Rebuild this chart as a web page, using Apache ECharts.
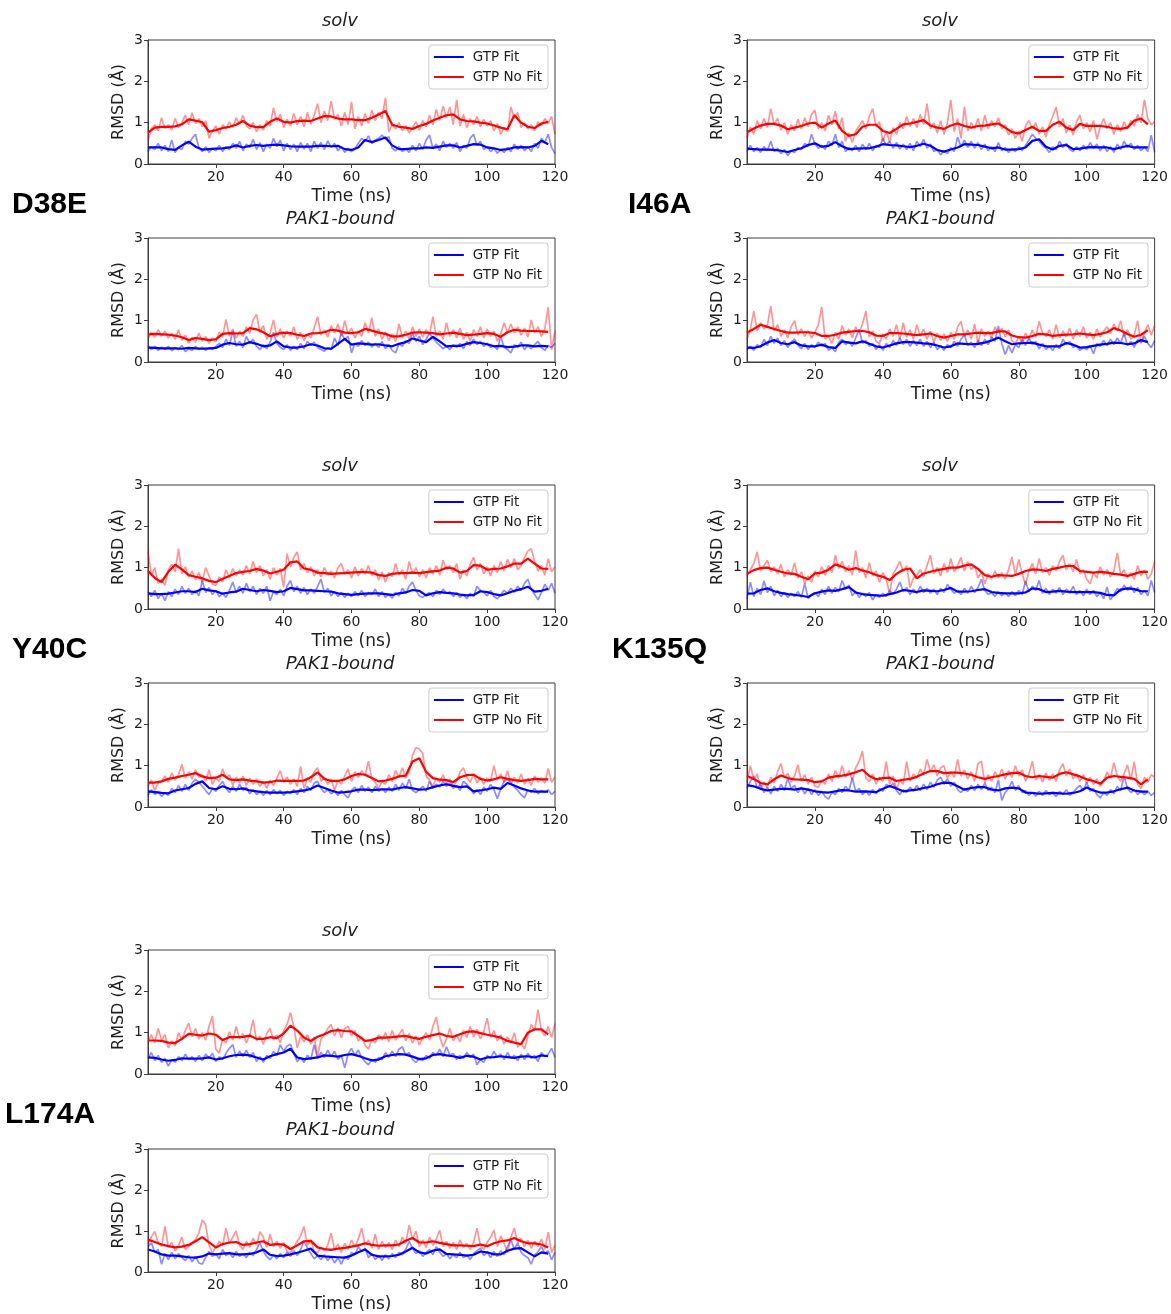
<!DOCTYPE html>
<html>
<head>
<meta charset="utf-8">
<script src="https://cdn.jsdelivr.net/npm/echarts@6/dist/echarts.min.js"></script>
<style>
  html, body { margin: 0; padding: 0; background: #ffffff; }
  #chart { width: 1171px; height: 1314px; }
</style>
</head>
<body>
<div id="chart"></div>
<script>
// RMSD (Å) of GTP over 120 ns trajectories, per mutant and environment.
// "raw" series are sampled every 1 ns, "smooth" series (running mean) every 2 ns.

const RAW_TIME = Array.from({ length: 121 }, (_, i) => i);
const SMOOTH_TIME = Array.from({ length: 60 }, (_, i) => 2 * i);

const X_TICKS = [20, 40, 60, 80, 100, 120];
const Y_TICKS = [0, 1, 2, 3];
const MUTANTS = ['D38E', 'I46A', 'Y40C', 'K135Q', 'L174A'];
const ENVIRONMENTS = ['solv', 'PAK1-bound'];
const SERIES_NAMES = ['GTP Fit', 'GTP No Fit'];

// ---------- D38E ----------
const D38E_SOLV_FIT_RAW = [0.30,0.42,0.35,0.50,0.32,0.45,0.30,0.58,0.28,0.40,
 0.35,0.55,0.48,0.62,0.72,0.40,0.30,0.42,0.28,0.38,
 0.32,0.45,0.30,0.42,0.35,0.50,0.38,0.55,0.32,0.48,
 0.40,0.60,0.35,0.52,0.30,0.48,0.38,0.62,0.42,0.58,
 0.32,0.50,0.35,0.48,0.30,0.52,0.36,0.50,0.30,0.55,
 0.38,0.52,0.35,0.56,0.40,0.50,0.32,0.42,0.28,0.38,
 0.30,0.36,0.50,0.62,0.55,0.68,0.50,0.58,0.62,0.70,
 0.60,0.66,0.38,0.32,0.42,0.30,0.38,0.28,0.45,0.32,
 0.50,0.35,0.58,0.70,0.38,0.48,0.32,0.55,0.40,0.50,
 0.38,0.52,0.30,0.45,0.38,0.62,0.72,0.45,0.55,0.35,
 0.42,0.30,0.38,0.26,0.35,0.28,0.40,0.30,0.48,0.35,
 0.45,0.32,0.42,0.30,0.50,0.38,0.62,0.52,0.72,0.40,0.25];
const D38E_SOLV_FIT_SMOOTH = [0.40,0.40,0.40,0.36,0.34,0.45,0.54,0.42,0.35,0.36,
 0.37,0.38,0.40,0.45,0.40,0.44,0.46,0.44,0.46,0.47,
 0.45,0.43,0.42,0.42,0.42,0.44,0.44,0.43,0.44,0.36,
 0.34,0.40,0.58,0.53,0.58,0.64,0.45,0.36,0.36,0.38,
 0.38,0.40,0.39,0.42,0.45,0.45,0.40,0.44,0.48,0.47,
 0.40,0.38,0.34,0.36,0.40,0.41,0.40,0.44,0.56,0.48];
const D38E_SOLV_NOFIT_RAW = [0.55,0.85,0.95,0.80,1.12,0.86,0.95,0.82,1.10,0.88,
 1.00,1.18,0.95,1.24,0.98,1.10,0.90,1.05,0.62,0.80,
 0.92,0.72,0.95,0.85,1.02,0.88,1.12,0.96,1.18,0.92,
 0.85,1.00,0.78,0.95,0.82,1.05,0.92,1.36,1.02,1.20,
 0.88,1.08,0.92,1.22,0.95,1.15,0.90,1.25,0.96,1.18,
 1.46,1.00,1.28,1.05,1.52,1.08,1.20,0.92,1.25,0.95,
 1.50,0.85,1.15,0.92,1.22,0.98,1.30,1.05,1.25,1.10,
 1.60,0.78,0.95,0.85,1.00,0.80,0.92,0.75,0.88,1.02,
 0.82,1.05,0.90,1.18,0.95,1.32,1.05,1.40,1.12,1.38,
 0.95,1.55,0.92,1.20,0.88,1.10,0.95,1.15,0.90,1.08,
 0.92,1.05,0.80,0.98,0.72,0.88,0.78,1.38,1.10,1.25,
 0.88,1.00,0.85,0.95,0.80,1.02,0.92,1.10,0.98,1.15,0.72];
const D38E_SOLV_NOFIT_SMOOTH = [0.76,0.88,0.90,0.90,0.91,0.96,1.08,1.05,1.01,0.78,
 0.82,0.87,0.90,0.95,1.04,0.93,0.89,0.89,1.02,1.10,
 1.02,1.00,1.04,1.05,1.04,1.10,1.16,1.15,1.10,1.08,
 1.08,1.06,1.06,1.12,1.20,1.28,0.95,0.90,0.88,0.85,
 0.92,0.97,1.05,1.12,1.18,1.20,1.08,1.04,1.03,1.00,
 0.98,0.93,0.88,0.84,1.18,1.00,0.90,0.87,0.98,1.02];

const D38E_PAK1_FIT_RAW = [0.40,0.30,0.38,0.28,0.36,0.30,0.38,0.27,0.35,0.30,
 0.40,0.25,0.32,0.28,0.38,0.30,0.36,0.28,0.34,0.30,
 0.38,0.45,0.35,0.55,0.40,0.75,0.38,0.50,0.35,0.62,
 0.45,0.55,0.38,0.30,0.42,0.32,0.48,0.72,0.45,0.35,
 0.30,0.42,0.28,0.38,0.30,0.45,0.32,0.50,0.40,0.48,
 0.35,0.30,0.26,0.35,0.30,0.58,0.40,0.70,0.55,0.62,
 0.22,0.45,0.38,0.52,0.40,0.48,0.36,0.45,0.35,0.50,
 0.32,0.42,0.28,0.22,0.45,0.38,0.52,0.45,0.70,0.50,
 0.62,0.42,0.55,0.70,0.58,0.48,0.40,0.32,0.38,0.30,
 0.42,0.35,0.45,0.32,0.50,0.40,0.55,0.42,0.50,0.38,
 0.45,0.35,0.40,0.30,0.62,0.35,0.30,0.22,0.42,0.35,
 0.48,0.30,0.40,0.32,0.42,0.50,0.35,0.28,0.40,0.35,0.45];
const D38E_PAK1_FIT_SMOOTH = [0.35,0.34,0.33,0.33,0.33,0.32,0.34,0.33,0.32,0.33,
 0.34,0.42,0.46,0.43,0.42,0.48,0.44,0.38,0.40,0.50,
 0.38,0.35,0.35,0.38,0.43,0.40,0.33,0.32,0.44,0.56,
 0.42,0.45,0.44,0.42,0.43,0.40,0.38,0.44,0.48,0.57,
 0.52,0.48,0.61,0.50,0.38,0.39,0.39,0.44,0.48,0.46,
 0.43,0.38,0.39,0.36,0.37,0.40,0.40,0.38,0.39,0.38];
const D38E_PAK1_NOFIT_RAW = [0.55,0.72,0.60,0.78,0.62,0.75,0.58,0.70,0.55,0.78,
 0.52,0.65,0.45,0.60,0.48,0.70,0.50,0.62,0.45,0.58,
 0.50,0.72,0.60,1.03,0.62,0.80,0.58,0.75,0.62,0.85,
 0.70,1.02,1.15,0.72,0.88,0.55,0.70,1.02,0.60,0.80,
 0.58,0.75,0.62,0.85,0.55,0.72,0.52,0.68,0.58,0.82,
 1.10,0.65,0.78,0.60,0.88,0.70,0.92,0.62,1.00,0.68,
 0.82,0.58,0.75,0.62,0.95,0.70,1.07,0.62,0.80,0.55,
 0.72,0.52,0.68,0.50,0.92,0.58,0.75,0.55,0.85,0.62,
 0.80,0.60,0.78,0.65,1.10,0.62,0.75,0.55,0.95,0.62,
 0.78,0.58,0.82,0.55,0.72,0.50,0.78,0.62,0.85,0.58,
 0.80,0.62,0.75,0.50,0.68,0.95,0.72,0.92,0.70,0.85,
 0.65,0.82,0.60,1.02,0.70,0.85,0.62,0.80,1.33,0.30,0.75];
const D38E_PAK1_NOFIT_SMOOTH = [0.67,0.68,0.67,0.66,0.64,0.60,0.53,0.58,0.56,0.53,
 0.55,0.68,0.70,0.69,0.70,0.82,0.79,0.72,0.62,0.68,
 0.71,0.70,0.66,0.63,0.69,0.70,0.72,0.78,0.76,0.71,
 0.70,0.72,0.80,0.76,0.71,0.68,0.62,0.62,0.66,0.71,
 0.72,0.71,0.70,0.67,0.69,0.71,0.68,0.65,0.66,0.68,
 0.70,0.68,0.61,0.72,0.78,0.76,0.75,0.75,0.74,0.73];

// ---------- I46A ----------
const I46A_SOLV_FIT_RAW = [0.30,0.45,0.30,0.40,0.28,0.42,0.32,0.55,0.30,0.38,
 0.25,0.35,0.20,0.32,0.28,0.40,0.35,0.50,0.42,0.72,
 0.48,0.38,0.45,0.35,0.55,0.45,0.72,0.40,0.55,0.30,
 0.40,0.32,0.45,0.30,0.48,0.35,0.50,0.32,0.45,0.40,
 0.62,0.45,0.55,0.38,0.52,0.36,0.48,0.35,0.50,0.32,
 0.55,0.42,0.60,0.38,0.48,0.30,0.35,0.22,0.32,0.25,
 0.40,0.30,0.65,0.42,0.58,0.40,0.55,0.38,0.52,0.35,
 0.48,0.32,0.42,0.30,0.52,0.32,0.40,0.28,0.38,0.30,
 0.42,0.32,0.45,0.58,0.72,0.62,0.55,0.45,0.38,0.28,
 0.42,0.35,0.55,0.40,0.50,0.35,0.30,0.42,0.32,0.45,
 0.35,0.52,0.38,0.48,0.32,0.45,0.30,0.42,0.28,0.48,
 0.35,0.55,0.40,0.50,0.35,0.45,0.32,0.42,0.30,0.70,0.28];
const I46A_SOLV_FIT_SMOOTH = [0.37,0.36,0.35,0.35,0.34,0.32,0.29,0.34,0.38,0.46,
 0.50,0.42,0.44,0.53,0.43,0.36,0.37,0.38,0.38,0.42,
 0.48,0.46,0.45,0.43,0.41,0.44,0.49,0.44,0.34,0.30,
 0.35,0.40,0.48,0.47,0.46,0.42,0.38,0.40,0.35,0.35,
 0.36,0.40,0.56,0.60,0.42,0.35,0.44,0.46,0.36,0.37,
 0.40,0.41,0.40,0.40,0.36,0.40,0.44,0.40,0.40,0.40];
const I46A_SOLV_NOFIT_RAW = [0.62,0.90,0.72,1.05,0.85,1.10,0.88,1.34,0.95,1.10,
 0.82,1.00,0.72,0.95,0.80,1.08,0.85,1.12,0.90,1.20,
 1.30,0.85,1.00,0.80,1.18,0.95,1.28,0.85,1.12,0.55,
 0.75,0.52,0.80,0.92,1.05,0.85,1.15,1.34,0.90,1.02,
 0.55,0.80,0.53,0.88,0.72,1.00,0.85,1.15,0.90,1.10,
 0.88,1.20,0.95,1.46,0.85,1.00,0.75,1.05,0.72,1.00,
 1.55,0.78,1.10,0.62,1.38,0.80,1.00,0.85,1.10,0.80,
 1.18,0.85,1.05,0.90,1.12,0.85,0.95,0.70,0.85,0.62,
 0.80,0.55,0.92,1.05,0.85,1.00,0.72,0.90,0.65,0.95,
 1.15,1.38,0.90,1.10,0.75,0.95,0.70,1.02,1.18,0.85,
 1.00,0.78,1.05,0.60,0.90,1.10,0.85,1.00,0.72,0.95,
 0.78,1.02,0.85,1.05,0.92,1.20,1.00,1.55,1.10,0.95,1.02];
const I46A_SOLV_NOFIT_SMOOTH = [0.77,0.86,0.93,0.97,0.97,0.93,0.84,0.88,0.92,0.98,
 1.00,0.88,0.98,1.05,0.80,0.68,0.72,0.90,0.95,0.95,
 0.80,0.75,0.85,0.96,0.98,1.02,1.06,0.93,0.88,0.85,
 0.93,0.98,0.92,0.88,0.92,0.93,0.96,0.98,0.88,0.77,
 0.74,0.82,0.90,0.80,0.80,0.95,1.02,0.88,0.82,0.97,
 0.92,0.92,0.92,0.90,0.86,0.85,0.88,1.05,1.10,0.96];

const I46A_PAK1_FIT_RAW = [0.30,0.38,0.28,0.42,0.35,0.55,0.40,0.62,0.45,0.58,
 0.40,0.52,0.35,0.48,0.55,0.40,0.32,0.45,0.30,0.42,
 0.35,0.48,0.38,0.45,0.28,0.35,0.25,0.48,0.55,0.42,
 0.50,0.38,0.58,0.79,0.45,0.52,0.38,0.45,0.30,0.42,
 0.28,0.45,0.35,0.52,0.40,0.58,0.42,0.55,0.38,0.52,
 0.40,0.55,0.38,0.50,0.35,0.48,0.30,0.40,0.28,0.42,
 0.35,0.50,0.38,0.55,0.66,0.40,0.48,0.35,0.52,0.40,
 0.55,0.42,0.60,0.50,0.87,0.45,0.18,0.40,0.22,0.42,
 0.35,0.55,0.40,0.58,0.42,0.50,0.32,0.45,0.30,0.38,
 0.28,0.42,0.32,0.55,0.42,0.50,0.35,0.40,0.28,0.35,
 0.30,0.40,0.20,0.45,0.38,0.52,0.40,0.55,0.42,0.58,
 0.45,0.70,0.40,0.50,0.35,0.55,0.48,0.62,0.45,0.35,0.52];
const I46A_PAK1_FIT_SMOOTH = [0.35,0.34,0.38,0.47,0.53,0.46,0.43,0.48,0.40,0.38,
 0.38,0.42,0.36,0.34,0.50,0.47,0.45,0.50,0.44,0.38,
 0.35,0.40,0.45,0.48,0.48,0.47,0.45,0.44,0.40,0.35,
 0.38,0.45,0.44,0.43,0.44,0.47,0.52,0.59,0.50,0.43,
 0.45,0.46,0.47,0.42,0.38,0.38,0.38,0.46,0.42,0.35,
 0.36,0.39,0.42,0.44,0.47,0.46,0.43,0.45,0.53,0.48];
const I46A_PAK1_NOFIT_RAW = [0.55,0.80,1.23,0.75,0.95,0.80,0.88,1.35,0.75,0.90,
 0.62,0.78,0.58,0.85,1.00,0.65,0.80,0.62,0.75,0.58,
 0.72,0.90,1.33,0.55,0.62,0.45,0.72,0.55,0.88,0.65,
 0.80,0.58,0.85,0.70,0.92,1.23,0.60,0.75,0.50,0.45,
 0.68,0.55,0.80,0.62,0.90,0.55,0.95,0.60,0.78,0.55,
 0.90,0.62,0.80,0.55,0.75,0.48,0.70,0.52,0.68,0.50,
 0.72,0.55,0.85,0.98,0.62,0.78,0.55,0.92,0.45,0.80,
 0.62,0.75,0.58,0.85,0.70,0.82,0.60,0.78,0.52,0.45,
 0.60,0.48,0.70,0.55,0.78,0.60,0.98,0.70,0.62,0.78,
 0.55,0.90,0.58,0.75,0.60,0.82,0.55,0.78,0.62,0.85,
 0.58,0.72,0.55,0.80,0.60,0.75,0.85,0.68,0.92,0.75,
 1.00,0.62,0.78,0.55,0.65,1.00,0.45,0.70,0.90,0.65,0.88];
const I46A_PAK1_NOFIT_SMOOTH = [0.71,0.80,0.90,0.85,0.80,0.75,0.71,0.71,0.72,0.72,
 0.70,0.63,0.63,0.66,0.71,0.73,0.75,0.75,0.72,0.64,
 0.63,0.70,0.70,0.69,0.67,0.65,0.67,0.69,0.63,0.59,
 0.63,0.67,0.67,0.69,0.71,0.70,0.70,0.74,0.74,0.64,
 0.60,0.59,0.63,0.68,0.67,0.63,0.65,0.66,0.67,0.69,
 0.67,0.65,0.68,0.72,0.82,0.76,0.68,0.61,0.66,0.77];

// ---------- Y40C ----------
const Y40C_SOLV_FIT_RAW = [0.42,0.30,0.45,0.25,0.38,0.20,0.42,0.30,0.48,0.35,
 0.55,0.38,0.50,0.35,0.45,0.32,0.69,0.40,0.52,0.35,
 0.45,0.30,0.38,0.28,0.45,0.65,0.40,0.55,0.38,0.62,
 0.42,0.55,0.35,0.50,0.38,0.55,0.20,0.42,0.35,0.48,
 0.32,0.55,0.69,0.42,0.55,0.38,0.52,0.35,0.48,0.38,
 0.55,0.72,0.40,0.50,0.32,0.42,0.30,0.40,0.28,0.38,
 0.30,0.42,0.32,0.45,0.30,0.40,0.35,0.48,0.30,0.42,
 0.28,0.36,0.26,0.40,0.32,0.50,0.38,0.55,0.65,0.45,
 0.32,0.28,0.35,0.40,0.30,0.45,0.35,0.48,0.38,0.42,
 0.30,0.40,0.28,0.35,0.25,0.38,0.30,0.55,0.45,0.40,
 0.32,0.45,0.30,0.25,0.35,0.45,0.38,0.50,0.40,0.55,
 0.45,0.62,0.72,0.48,0.35,0.22,0.40,0.60,0.45,0.62,0.38];
const Y40C_SOLV_FIT_SMOOTH = [0.38,0.36,0.36,0.37,0.40,0.43,0.43,0.41,0.49,0.45,
 0.43,0.37,0.40,0.42,0.49,0.46,0.43,0.46,0.44,0.41,
 0.43,0.51,0.48,0.45,0.45,0.44,0.43,0.42,0.38,0.36,
 0.34,0.36,0.37,0.38,0.38,0.36,0.34,0.38,0.40,0.46,
 0.44,0.33,0.38,0.41,0.39,0.38,0.35,0.33,0.34,0.43,
 0.41,0.36,0.33,0.38,0.44,0.48,0.54,0.42,0.44,0.49];
const Y40C_SOLV_NOFIT_RAW = [1.40,0.80,1.00,0.62,0.72,0.57,0.95,1.08,0.90,1.46,
 0.85,1.02,0.78,0.92,0.70,0.88,0.65,1.00,0.80,0.60,
 0.57,0.78,0.65,0.95,0.75,0.98,0.80,0.95,0.82,1.05,
 0.85,1.15,0.88,1.05,0.80,0.95,0.72,1.00,0.82,0.98,
 0.53,1.34,1.02,1.25,1.38,0.95,1.10,0.88,1.02,0.80,
 0.95,0.78,1.00,0.82,0.92,0.75,1.00,1.10,0.85,0.95,
 0.75,1.02,0.80,0.98,0.85,1.05,0.80,0.95,0.70,0.90,
 0.65,0.88,0.78,1.10,0.82,0.95,0.72,1.15,0.85,1.00,
 0.78,0.95,0.75,1.00,0.85,1.05,0.82,1.18,0.95,1.05,
 0.88,1.10,0.72,0.95,0.80,1.08,1.25,0.95,1.10,0.85,
 1.02,0.80,1.05,0.88,1.15,0.92,1.20,1.00,1.22,0.95,
 1.05,1.25,1.40,1.46,1.15,0.92,1.05,0.82,1.22,0.90,1.02];
const Y40C_SOLV_NOFIT_SMOOTH = [0.92,0.75,0.65,0.90,1.07,0.96,0.82,0.78,0.74,0.68,
 0.65,0.73,0.80,0.87,0.90,0.92,0.97,0.93,0.86,0.90,
 0.95,1.13,1.15,0.98,0.95,0.88,0.87,0.85,0.86,0.87,
 0.88,0.89,0.89,0.88,0.82,0.80,0.85,0.87,0.87,0.88,
 0.87,0.89,0.91,0.93,1.00,0.98,0.88,0.92,1.06,1.05,
 0.95,0.97,0.98,1.03,1.10,1.10,1.22,1.10,0.98,0.97];

const Y40C_PAK1_FIT_RAW = [0.28,0.42,0.30,0.38,0.25,0.35,0.28,0.45,0.35,0.52,
 0.38,0.55,0.40,0.58,0.67,0.60,0.50,0.40,0.30,0.45,
 0.38,0.52,0.62,0.45,0.35,0.50,0.38,0.55,0.40,0.48,
 0.32,0.42,0.30,0.38,0.28,0.40,0.30,0.42,0.32,0.40,
 0.28,0.38,0.32,0.42,0.30,0.45,0.35,0.50,0.40,0.58,
 0.62,0.45,0.35,0.42,0.32,0.38,0.28,0.40,0.30,0.22,
 0.40,0.48,0.35,0.52,0.38,0.48,0.35,0.50,0.38,0.45,
 0.35,0.48,0.38,0.55,0.40,0.58,0.45,0.67,0.40,0.35,
 0.42,0.50,0.38,0.62,0.45,0.55,0.48,0.62,0.50,0.58,
 0.45,0.52,0.40,0.62,0.55,0.45,0.32,0.42,0.30,0.48,
 0.38,0.55,0.42,0.20,0.45,0.62,0.67,0.58,0.48,0.40,
 0.30,0.22,0.42,0.35,0.45,0.32,0.40,0.35,0.42,0.30,0.38];
const Y40C_PAK1_FIT_SMOOTH = [0.38,0.36,0.34,0.33,0.40,0.43,0.46,0.56,0.62,0.46,
 0.43,0.50,0.44,0.43,0.45,0.40,0.38,0.36,0.35,0.35,
 0.35,0.36,0.38,0.40,0.44,0.52,0.46,0.40,0.35,0.36,
 0.38,0.42,0.42,0.41,0.42,0.43,0.42,0.46,0.48,0.45,
 0.42,0.43,0.48,0.52,0.55,0.51,0.48,0.50,0.38,0.40,
 0.43,0.47,0.44,0.58,0.52,0.45,0.40,0.37,0.37,0.37];
const Y40C_PAK1_NOFIT_RAW = [0.50,0.65,0.40,0.58,0.62,0.75,0.60,0.82,0.65,0.78,
 1.03,0.70,0.85,0.68,0.90,0.72,0.78,0.62,0.90,0.55,
 0.70,0.62,0.92,0.70,0.78,0.52,0.72,0.58,0.75,0.52,
 0.70,0.55,0.68,0.50,0.62,0.45,0.65,0.52,0.70,0.88,
 0.60,0.72,0.55,0.68,0.50,0.98,0.45,0.70,0.60,0.85,
 0.95,0.62,0.70,0.55,0.68,0.40,0.65,0.55,0.75,0.92,
 0.62,0.85,0.72,0.88,0.75,1.11,0.68,0.60,0.45,0.62,
 0.55,0.78,0.62,0.88,0.72,0.95,0.70,0.85,1.25,1.44,
 1.40,1.30,0.75,0.65,0.50,0.70,0.60,0.78,0.55,0.68,
 0.50,0.62,0.85,0.95,0.72,0.60,0.80,0.58,0.72,0.55,
 0.70,0.62,1.00,0.65,0.80,0.60,0.88,0.55,0.72,0.58,
 0.80,0.55,0.70,0.52,0.75,0.60,0.70,0.58,0.93,0.60,0.72];
const Y40C_PAK1_NOFIT_SMOOTH = [0.59,0.59,0.62,0.68,0.71,0.75,0.78,0.82,0.74,0.70,
 0.71,0.78,0.67,0.65,0.67,0.64,0.62,0.59,0.60,0.64,
 0.63,0.63,0.63,0.64,0.72,0.84,0.68,0.63,0.63,0.67,
 0.75,0.80,0.78,0.70,0.62,0.64,0.68,0.74,0.76,1.10,
 1.18,0.85,0.70,0.66,0.65,0.60,0.72,0.77,0.78,0.68,
 0.64,0.67,0.72,0.68,0.65,0.63,0.65,0.68,0.67,0.67];

// ---------- K135Q ----------
const K135Q_SOLV_FIT_RAW = [0.25,0.65,0.30,0.50,0.35,0.68,0.40,0.55,0.32,0.45,
 0.30,0.40,0.28,0.38,0.30,0.42,0.28,0.62,0.25,0.35,
 0.40,0.30,0.48,0.35,0.55,0.38,0.52,0.42,0.69,0.48,
 0.58,0.32,0.42,0.28,0.38,0.30,0.40,0.22,0.35,0.28,
 0.38,0.30,0.45,0.35,0.48,0.65,0.42,0.52,0.35,0.48,
 0.38,0.55,0.40,0.50,0.38,0.48,0.35,0.50,0.40,0.60,
 0.48,0.38,0.45,0.35,0.50,0.38,0.55,0.40,0.52,0.72,
 0.45,0.35,0.40,0.30,0.42,0.32,0.40,0.30,0.42,0.32,
 0.45,0.35,0.68,0.42,0.55,0.45,0.69,0.38,0.50,0.35,
 0.48,0.38,0.52,0.35,0.48,0.38,0.55,0.35,0.45,0.32,
 0.48,0.35,0.45,0.30,0.40,0.25,0.53,0.22,0.35,0.50,
 0.42,0.58,0.45,0.55,0.40,0.52,0.35,0.45,0.32,0.69,0.40];
const K135Q_SOLV_FIT_SMOOTH = [0.37,0.38,0.46,0.50,0.43,0.39,0.36,0.34,0.32,0.29,
 0.38,0.42,0.45,0.44,0.48,0.53,0.40,0.36,0.34,0.33,
 0.32,0.36,0.40,0.46,0.44,0.41,0.45,0.44,0.43,0.46,
 0.51,0.42,0.42,0.43,0.46,0.48,0.41,0.39,0.38,0.38,
 0.38,0.40,0.50,0.48,0.41,0.42,0.44,0.42,0.41,0.41,
 0.41,0.41,0.39,0.34,0.33,0.47,0.50,0.48,0.43,0.43];
const K135Q_SOLV_NOFIT_RAW = [0.80,0.95,1.10,1.38,0.92,1.05,1.18,0.90,1.02,0.85,
 1.08,0.78,0.95,0.82,1.12,0.75,0.90,0.61,0.80,0.65,
 0.92,0.78,1.02,0.82,1.05,0.88,1.30,0.98,1.15,0.90,
 1.05,0.82,1.42,0.88,1.00,0.75,1.12,0.80,0.92,0.65,
 0.88,0.72,0.37,0.85,0.98,1.15,0.90,1.05,0.52,0.75,
 0.82,0.95,0.78,1.05,1.30,0.85,1.00,0.80,1.10,0.88,
 1.22,0.90,1.05,1.25,0.92,1.15,0.95,1.05,0.75,0.90,
 0.61,0.85,0.72,0.92,0.75,0.88,0.72,0.95,1.26,0.82,
 1.20,0.85,0.58,0.92,1.10,0.85,1.22,0.88,1.00,0.82,
 1.05,0.92,1.15,1.30,0.95,1.10,0.90,1.20,0.85,0.95,
 0.72,0.61,0.88,0.75,1.02,0.82,0.95,0.78,0.92,1.36,
 0.82,0.95,0.75,0.88,0.72,1.05,0.80,0.95,0.72,0.85,1.15];
const K135Q_SOLV_NOFIT_SMOOTH = [0.85,0.94,0.99,1.00,0.95,0.90,0.86,0.85,0.78,0.72,
 0.86,0.88,0.95,1.08,1.02,0.95,0.99,0.93,0.89,0.82,
 0.78,0.70,0.85,0.95,0.98,0.74,0.86,0.90,0.94,0.97,
 1.00,1.00,1.05,1.08,0.97,0.82,0.78,0.82,0.81,0.80,
 0.85,0.92,0.96,0.95,0.92,0.97,1.00,1.04,1.04,0.92,
 0.90,0.88,0.90,0.88,0.85,0.83,0.80,0.85,0.90,0.90];

const K135Q_PAK1_FIT_RAW = [0.45,0.62,0.75,0.45,0.55,0.35,0.48,0.32,0.50,0.38,
 0.55,0.40,0.70,0.45,0.52,0.35,0.48,0.32,0.45,0.30,
 0.42,0.28,0.38,0.25,0.19,0.35,0.30,0.45,0.35,0.50,
 0.40,0.70,0.38,0.45,0.30,0.40,0.28,0.42,0.32,0.45,
 0.38,0.55,0.48,0.58,0.40,0.30,0.42,0.35,0.48,0.38,
 0.52,0.40,0.55,0.42,0.60,0.48,0.65,0.72,0.55,0.68,
 0.50,0.60,0.42,0.35,0.45,0.38,0.52,0.40,0.55,0.42,
 0.58,0.40,0.48,0.35,0.66,0.16,0.35,0.45,0.62,0.40,
 0.52,0.35,0.40,0.28,0.35,0.26,0.38,0.28,0.40,0.30,
 0.36,0.25,0.38,0.30,0.42,0.28,0.35,0.45,0.52,0.40,
 0.60,0.38,0.45,0.30,0.22,0.35,0.28,0.42,0.32,0.50,
 0.40,0.75,0.45,0.35,0.42,0.30,0.40,0.30,0.38,0.28,0.35];
const K135Q_PAK1_FIT_SMOOTH = [0.53,0.50,0.44,0.40,0.42,0.44,0.44,0.42,0.45,0.42,
 0.38,0.36,0.35,0.38,0.41,0.40,0.37,0.38,0.37,0.36,
 0.44,0.51,0.45,0.38,0.40,0.42,0.46,0.49,0.55,0.59,
 0.58,0.50,0.42,0.46,0.48,0.48,0.42,0.40,0.45,0.47,
 0.45,0.35,0.34,0.32,0.33,0.34,0.33,0.32,0.34,0.38,
 0.47,0.40,0.35,0.35,0.38,0.43,0.47,0.40,0.37,0.37];
const K135Q_PAK1_NOFIT_RAW = [0.62,1.00,0.65,0.80,0.45,0.60,0.48,0.72,0.58,0.85,
 1.05,0.70,0.82,0.60,0.75,1.02,0.62,0.78,0.55,0.72,
 0.50,0.48,0.65,0.55,0.80,0.62,0.88,0.70,1.00,0.72,
 0.88,0.65,0.95,1.10,1.35,0.70,0.62,0.80,0.55,0.72,
 0.62,1.10,0.55,0.75,0.42,0.65,0.55,1.10,0.62,0.80,
 0.70,0.92,0.78,1.15,0.85,1.02,0.75,0.95,1.00,0.70,
 0.85,0.72,1.15,0.75,0.90,0.68,0.85,0.62,1.05,1.11,
 0.58,0.78,0.62,0.85,0.70,0.92,0.68,0.88,0.72,1.00,
 0.75,0.90,0.62,0.80,1.11,0.65,0.78,0.60,0.82,0.65,
 0.80,0.62,0.90,1.05,0.75,0.92,0.68,0.80,0.62,0.78,
 0.58,0.72,0.55,0.68,0.50,0.62,0.85,0.70,1.07,0.75,
 0.62,0.80,1.02,0.65,1.10,0.55,0.45,0.72,0.60,0.78,0.72];
const K135Q_PAK1_NOFIT_SMOOTH = [0.75,0.68,0.58,0.55,0.67,0.76,0.70,0.67,0.66,0.65,
 0.60,0.62,0.71,0.74,0.76,0.79,0.84,0.90,0.75,0.67,
 0.70,0.71,0.63,0.66,0.68,0.73,0.81,0.87,0.87,0.82,
 0.83,0.83,0.81,0.78,0.72,0.68,0.72,0.75,0.79,0.82,
 0.83,0.75,0.72,0.75,0.73,0.71,0.80,0.84,0.79,0.74,
 0.67,0.63,0.56,0.71,0.75,0.73,0.71,0.68,0.55,0.67];

// ---------- L174A ----------
const L174A_SOLV_FIT_RAW = [0.38,0.52,0.32,0.45,0.28,0.38,0.19,0.35,0.28,0.42,
 0.32,0.48,0.35,0.42,0.30,0.45,0.32,0.48,0.38,0.50,
 0.30,0.42,0.35,0.50,0.62,0.71,0.40,0.55,0.42,0.58,
 0.40,0.52,0.30,0.42,0.28,0.45,0.38,0.55,0.45,0.71,
 0.55,0.68,0.72,0.50,0.30,0.40,0.28,0.45,0.35,0.71,
 0.38,0.52,0.40,0.58,0.42,0.55,0.35,0.45,0.15,0.48,
 0.62,0.45,0.58,0.40,0.30,0.22,0.35,0.28,0.40,0.35,
 0.52,0.40,0.55,0.42,0.60,0.66,0.45,0.52,0.35,0.28,
 0.38,0.32,0.45,0.38,0.52,0.45,0.60,0.42,0.66,0.45,
 0.50,0.35,0.45,0.38,0.52,0.40,0.48,0.22,0.35,0.28,
 0.45,0.38,0.55,0.40,0.48,0.35,0.52,0.38,0.45,0.32,
 0.48,0.35,0.50,0.38,0.45,0.30,0.52,0.42,0.48,0.62,0.40];
const L174A_SOLV_FIT_SMOOTH = [0.40,0.39,0.35,0.32,0.34,0.38,0.37,0.37,0.38,0.40,
 0.35,0.38,0.43,0.46,0.47,0.45,0.40,0.35,0.43,0.48,
 0.52,0.61,0.40,0.36,0.38,0.40,0.45,0.44,0.42,0.46,
 0.48,0.44,0.38,0.33,0.35,0.43,0.46,0.48,0.47,0.42,
 0.36,0.38,0.46,0.48,0.45,0.43,0.39,0.44,0.42,0.35,
 0.40,0.41,0.43,0.41,0.39,0.42,0.43,0.40,0.45,0.43];
const L174A_SOLV_NOFIT_RAW = [0.78,0.95,0.75,1.10,0.82,0.95,0.63,0.80,0.68,1.00,
 0.82,1.05,1.23,0.90,1.10,0.85,1.00,0.82,1.15,1.40,
 0.60,0.50,0.85,0.75,1.02,0.82,1.15,0.85,0.98,0.75,
 0.95,1.31,0.80,0.92,0.72,0.98,1.10,0.82,0.95,0.75,
 1.05,1.20,1.48,1.15,0.63,0.90,0.78,0.95,0.72,0.90,
 0.43,0.85,0.95,1.10,1.20,0.92,1.12,0.88,1.10,1.15,
 0.92,1.05,0.80,0.90,0.70,0.60,0.85,0.75,0.95,0.82,
 1.00,0.78,1.05,0.82,0.95,1.08,0.80,0.98,0.75,0.92,
 0.70,0.88,1.00,0.82,1.15,1.38,0.90,0.65,0.85,1.10,
 0.80,0.95,0.78,1.05,0.88,1.15,0.90,1.08,0.85,1.02,
 1.35,0.88,1.05,0.80,0.95,0.72,0.90,0.75,1.00,0.65,
 0.75,0.60,0.92,1.20,1.05,1.56,1.05,0.92,1.15,0.88,1.22];
const L174A_SOLV_NOFIT_SMOOTH = [0.81,0.81,0.80,0.76,0.75,0.85,0.97,0.95,0.93,0.98,
 0.95,0.82,0.89,0.89,0.90,0.93,0.85,0.85,0.89,0.87,
 0.98,1.17,1.05,0.88,0.80,0.90,0.96,1.04,1.06,1.04,
 1.03,0.92,0.80,0.82,0.88,0.88,0.89,0.91,0.92,0.88,
 0.85,0.90,0.94,0.98,0.92,0.90,0.96,1.02,1.03,0.99,
 0.95,0.92,0.88,0.80,0.76,0.72,1.00,1.08,1.08,0.96];

const L174A_PAK1_FIT_RAW = [0.62,0.71,0.48,0.55,0.19,0.45,0.30,0.48,0.32,0.45,
 0.35,0.28,0.40,0.25,0.38,0.22,0.19,0.35,0.50,0.38,
 0.45,0.32,0.55,0.40,0.48,0.35,0.50,0.38,0.45,0.35,
 0.48,0.40,0.55,0.71,0.50,0.38,0.30,0.42,0.32,0.45,
 0.35,0.48,0.38,0.52,0.40,0.55,0.75,0.58,0.45,0.32,
 0.40,0.30,0.42,0.28,0.38,0.22,0.35,0.19,0.38,0.30,
 0.48,0.42,0.62,0.50,0.58,0.35,0.45,0.30,0.40,0.28,
 0.42,0.32,0.45,0.35,0.48,0.42,0.55,0.75,0.58,0.45,
 0.52,0.38,0.48,0.55,0.42,0.62,0.48,0.38,0.45,0.32,
 0.42,0.35,0.48,0.35,0.42,0.30,0.45,0.52,0.58,0.40,
 0.48,0.35,0.50,0.38,0.52,0.42,0.62,0.79,0.55,0.71,
 0.48,0.40,0.35,0.19,0.42,0.50,0.62,0.45,0.52,0.30,0.48];
const L174A_PAK1_FIT_SMOOTH = [0.55,0.50,0.43,0.40,0.40,0.38,0.36,0.35,0.38,0.45,
 0.43,0.45,0.46,0.43,0.43,0.44,0.48,0.55,0.42,0.39,
 0.40,0.43,0.47,0.52,0.57,0.40,0.38,0.37,0.36,0.35,
 0.40,0.48,0.55,0.42,0.38,0.38,0.39,0.42,0.50,0.59,
 0.48,0.45,0.52,0.55,0.44,0.43,0.42,0.40,0.42,0.50,
 0.48,0.43,0.43,0.52,0.57,0.58,0.48,0.38,0.48,0.45];
const L174A_PAK1_NOFIT_RAW = [0.68,0.85,0.99,0.72,0.62,1.11,0.60,0.72,0.52,0.65,
 0.85,0.55,0.62,0.70,0.80,0.95,1.27,1.15,0.65,0.47,
 0.60,0.75,0.65,1.07,0.70,0.85,1.00,0.65,0.55,0.75,
 0.60,0.82,0.65,0.98,0.85,0.60,0.92,0.62,0.75,0.58,
 0.72,0.50,0.47,0.60,0.75,0.88,1.11,0.65,0.78,0.50,
 0.47,0.60,0.52,0.65,0.95,0.55,0.68,0.48,0.70,0.55,
 0.78,0.62,0.80,1.07,0.65,0.78,0.58,0.92,0.55,0.75,
 0.60,0.72,0.55,0.78,0.62,0.85,0.70,1.15,0.80,1.00,
 0.62,0.78,0.60,0.85,0.65,0.80,1.02,0.62,0.75,0.58,
 0.72,0.55,0.78,0.60,0.70,0.55,0.72,1.07,0.65,0.55,
 0.72,0.85,1.02,0.62,0.88,0.70,0.47,0.85,1.07,0.72,
 0.82,0.62,0.78,0.58,0.75,0.62,0.80,0.55,0.97,0.47,0.65];
const L174A_PAK1_NOFIT_SMOOTH = [0.79,0.73,0.67,0.63,0.60,0.62,0.66,0.75,0.85,0.72,
 0.60,0.68,0.72,0.73,0.66,0.68,0.72,0.75,0.66,0.68,
 0.67,0.56,0.65,0.75,0.76,0.60,0.56,0.54,0.57,0.59,
 0.62,0.65,0.70,0.66,0.64,0.65,0.65,0.67,0.76,0.83,
 0.72,0.72,0.75,0.71,0.68,0.65,0.65,0.64,0.63,0.67,
 0.63,0.70,0.75,0.77,0.83,0.75,0.70,0.70,0.67,0.60];

// Panel contents: [mutant index][environment index]
const PANEL_DATA = [
  [[D38E_SOLV_FIT_RAW, D38E_SOLV_FIT_SMOOTH, D38E_SOLV_NOFIT_RAW, D38E_SOLV_NOFIT_SMOOTH],
   [D38E_PAK1_FIT_RAW, D38E_PAK1_FIT_SMOOTH, D38E_PAK1_NOFIT_RAW, D38E_PAK1_NOFIT_SMOOTH]],
  [[I46A_SOLV_FIT_RAW, I46A_SOLV_FIT_SMOOTH, I46A_SOLV_NOFIT_RAW, I46A_SOLV_NOFIT_SMOOTH],
   [I46A_PAK1_FIT_RAW, I46A_PAK1_FIT_SMOOTH, I46A_PAK1_NOFIT_RAW, I46A_PAK1_NOFIT_SMOOTH]],
  [[Y40C_SOLV_FIT_RAW, Y40C_SOLV_FIT_SMOOTH, Y40C_SOLV_NOFIT_RAW, Y40C_SOLV_NOFIT_SMOOTH],
   [Y40C_PAK1_FIT_RAW, Y40C_PAK1_FIT_SMOOTH, Y40C_PAK1_NOFIT_RAW, Y40C_PAK1_NOFIT_SMOOTH]],
  [[K135Q_SOLV_FIT_RAW, K135Q_SOLV_FIT_SMOOTH, K135Q_SOLV_NOFIT_RAW, K135Q_SOLV_NOFIT_SMOOTH],
   [K135Q_PAK1_FIT_RAW, K135Q_PAK1_FIT_SMOOTH, K135Q_PAK1_NOFIT_RAW, K135Q_PAK1_NOFIT_SMOOTH]],
  [[L174A_SOLV_FIT_RAW, L174A_SOLV_FIT_SMOOTH, L174A_SOLV_NOFIT_RAW, L174A_SOLV_NOFIT_SMOOTH],
   [L174A_PAK1_FIT_RAW, L174A_PAK1_FIT_SMOOTH, L174A_PAK1_NOFIT_RAW, L174A_PAK1_NOFIT_SMOOTH]]
];

// ---------- layout ----------
const FONT = '"DejaVu Sans", "Noto Sans", sans-serif';
const TEXT_COLOR = '#1e1e1e';
const FRAME_COLOR = '#3c3c3c';
const BLUE = '#0000ff';
const RED = '#ff0000';

const COLUMN_LEFT = [148, 747];
const COLUMN_WIDTH = [407, 408];
const TITLE_CENTER_X = [340, 940];
const BLOCK_TOPS = [[40, 238], [485, 683], [950, 1149]]; // [solv, PAK1-bound] plot tops per row
const PLOT_HEIGHT = 124;
const MUTANT_POS = [[0, 0], [1, 0], [0, 1], [1, 1], [0, 2]]; // [column, row]
const MUTANT_LABEL_XY = [[12, 205], [628, 205], [12, 650], [612, 650], [5, 1115]];

function pairs(times, values) {
  return values.map((v, i) => [times[i], v]);
}

const option = {
  animation: false,
  backgroundColor: '#ffffff',
  grid: [], xAxis: [], yAxis: [], series: [], legend: [], graphic: []
};

MUTANTS.forEach((mutant, m) => {
  const [col, row] = MUTANT_POS[m];
  option.graphic.push({
    type: 'text', x: MUTANT_LABEL_XY[m][0], y: MUTANT_LABEL_XY[m][1],
    style: { text: mutant, font: 'bold 30px "Liberation Sans", Arial, sans-serif',
             fill: '#000', textVerticalAlign: 'middle' }
  });

  ENVIRONMENTS.forEach((env, e) => {
    const idx = option.grid.length;
    const left = COLUMN_LEFT[col];
    const width = COLUMN_WIDTH[col];
    const top = BLOCK_TOPS[row][e];
    const [fitRaw, fitSmooth, noFitRaw, noFitSmooth] = PANEL_DATA[m][e];

    option.grid.push({
      left: left, top: top, width: width, height: PLOT_HEIGHT,
      show: true, borderColor: FRAME_COLOR, borderWidth: 1, backgroundColor: 'transparent'
    });

    option.xAxis.push({
      type: 'value', gridIndex: idx, min: 0, max: 120, interval: 20,
      name: 'Time (ns)', nameLocation: 'middle', nameGap: 24,
      nameTextStyle: { fontFamily: FONT, fontSize: 17, color: TEXT_COLOR },
      axisLine: { show: true, onZero: false, lineStyle: { color: FRAME_COLOR, width: 1 } },
      axisTick: { show: true, inside: false, length: 4, customValues: X_TICKS,
                  lineStyle: { color: FRAME_COLOR } },
      axisLabel: { customValues: X_TICKS, margin: 6, fontFamily: FONT, fontSize: 14, color: TEXT_COLOR },
      splitLine: { show: false }
    });

    option.yAxis.push({
      type: 'value', gridIndex: idx, min: 0, max: 3, interval: 1,
      name: 'RMSD (Å)', nameLocation: 'middle', nameGap: 21,
      nameTextStyle: { fontFamily: FONT, fontSize: 16, color: TEXT_COLOR },
      axisLine: { show: true, lineStyle: { color: FRAME_COLOR, width: 1 } },
      axisTick: { show: true, inside: false, length: 4, customValues: Y_TICKS,
                  lineStyle: { color: FRAME_COLOR } },
      axisLabel: { customValues: Y_TICKS, margin: 5, fontFamily: FONT, fontSize: 14, color: TEXT_COLOR },
      splitLine: { show: false }
    });

    // panel title
    option.graphic.push({
      type: 'text', x: TITLE_CENTER_X[col], y: top - 19,
      style: { text: env, font: 'italic 18px ' + FONT, fill: TEXT_COLOR,
               textAlign: 'center', textVerticalAlign: 'middle' }
    });

    const lineSeries = (name, data, color, width, opacity, z) => ({
      type: 'line', name: name, xAxisIndex: idx, yAxisIndex: idx,
      data: data, showSymbol: false, symbol: 'none', smooth: false, silent: true,
      itemStyle: { color: color },
      lineStyle: { color: color, width: width, opacity: opacity },
      z: z
    });

    option.series.push(lineSeries('GTP Fit raw', pairs(RAW_TIME, fitRaw), BLUE, 1.7, 0.45, 2));
    option.series.push(lineSeries('GTP No Fit raw', pairs(RAW_TIME, noFitRaw), RED, 1.7, 0.42, 2));
    option.series.push(lineSeries(SERIES_NAMES[0], pairs(SMOOTH_TIME, fitSmooth), BLUE, 2.2, 1, 3));
    option.series.push(lineSeries(SERIES_NAMES[1], pairs(SMOOTH_TIME, noFitSmooth), RED, 2.2, 1, 3));

    option.legend.push({
      data: SERIES_NAMES, orient: 'vertical', selectedMode: false,
      right: 1171 - (left + width - 7), top: top + 5,
      icon: 'rect', itemWidth: 30, itemHeight: 2, itemGap: 6,
      padding: [5, 6, 5, 5],
      backgroundColor: '#ffffff', borderColor: '#cccccc', borderWidth: 1, borderRadius: 3,
      textStyle: { fontFamily: FONT, fontSize: 13.5, color: TEXT_COLOR, lineHeight: 14, padding: [0, 0, 0, 4] },
      z: 10
    });
  });
});

const chart = echarts.init(document.getElementById('chart'), null, { renderer: 'canvas', width: 1171, height: 1314 });
chart.setOption(option);
</script>
</body>
</html>
